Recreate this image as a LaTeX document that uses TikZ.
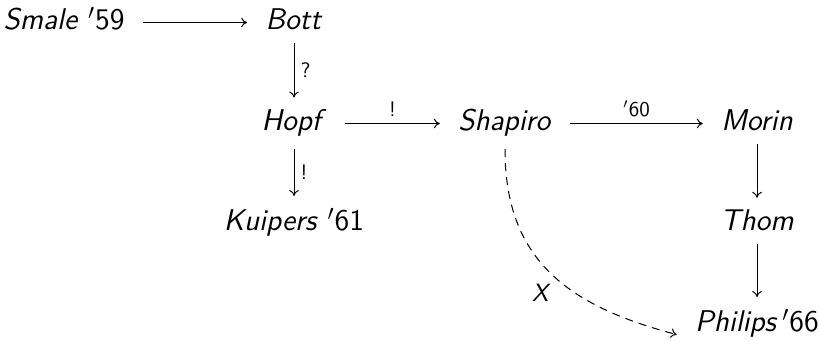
\documentclass[tikz,border=0pt]{standalone}
\usetikzlibrary{arrows.meta}
\begin{document}
\begin{tikzpicture}[x=0.5pt,y=-0.5pt,
  obj/.style={anchor=base, inner xsep=9pt, inner ysep=6pt, font=\fontsize{15}{18}\selectfont\sffamily},
  lbl/.style={font=\fontsize{10.5}{12}\selectfont\sffamily, inner sep=3pt},
  arr/.style={-{To[length=3pt,width=4.8pt]}, line width=0.5pt},
  dasharr/.style={arr, dash pattern=on 4pt off 3pt}]
\useasboundingbox (0,0) rectangle (819,341);
\node[obj] (smale) at (64,30) {\textit{Smale} $'$59};
\node[obj] (bott) at (294,30) {\textit{Bott}};
\node[obj] (hopf) at (294,131) {\textit{Hopf}};
\node[obj] (shapiro) at (505,131) {\textit{Shapiro}};
\node[obj] (morin) at (757,131) {\textit{Morin}};
\node[obj] (kuipers) at (294,231) {\textit{Kuipers} $'$61};
\node[obj] (thom) at (757,231) {\textit{Thom}};
\node[obj] (philips) at (757,332) {\textit{Philips}\,$'$66};
\draw[arr] ([yshift=3.75pt]smale.base east) -- ([yshift=3.75pt]bott.base west);
\draw[arr] (bott) -- node[lbl, right] {?} (hopf);
\draw[arr] ([yshift=3.75pt]hopf.base east) -- node[lbl, above] {!} ([yshift=3.75pt]shapiro.base west);
\draw[arr] ([yshift=3.75pt]shapiro.base east) -- node[lbl, above] {$'$60} ([yshift=3.75pt]morin.base west);
\draw[arr] (hopf) -- node[lbl, right] {!} (kuipers);
\draw[arr] (morin) -- (thom);
\draw[arr] (thom) -- (philips);
\draw[dasharr] (shapiro.south) .. controls +(0,110) and +(-110,-29) .. ([yshift=-5.5pt]philips.west)
  node[lbl, pos=0.6, anchor=east, xshift=-8pt, yshift=-2pt, inner sep=2pt, font=\fontsize{12.5}{14}\selectfont\sffamily\itshape] {X};
\end{tikzpicture}
\end{document}
